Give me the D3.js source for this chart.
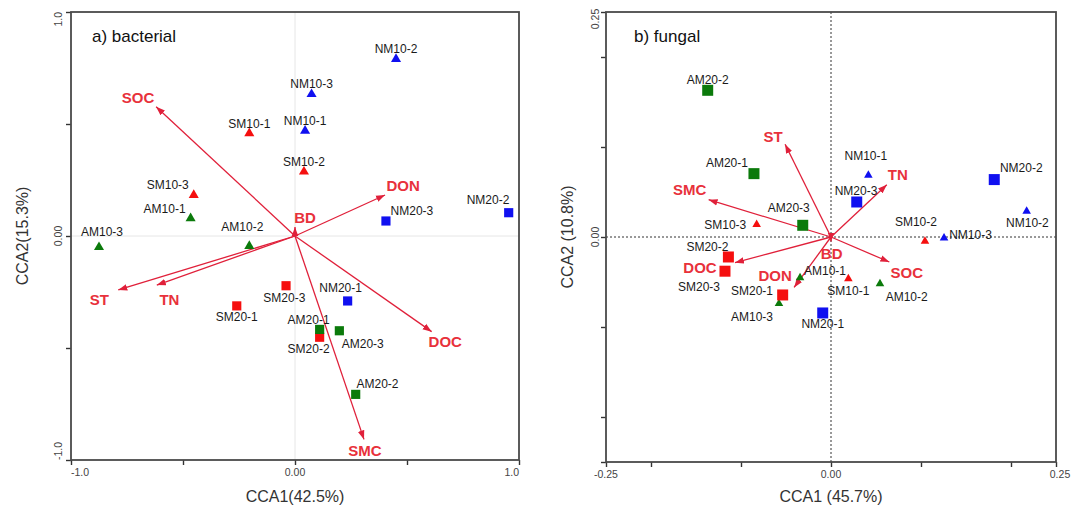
<!DOCTYPE html>
<html>
<head>
<meta charset="utf-8">
<script src="https://cdn.jsdelivr.net/npm/d3@7"></script>
<style>
  body { margin: 0; background: #fff; }
  svg { display: block; }
  text { font-family: Arial, "Liberation Sans", sans-serif; }
</style>
</head>
<body>
<svg id="chart" width="1072" height="509"></svg>
<script>
// ---- Sample order shared by both ordinations ----
const samples = ["NM10-1","NM10-2","NM10-3","SM10-1","SM10-2","SM10-3","AM10-1","AM10-2","AM10-3",
                 "NM20-1","NM20-2","NM20-3","SM20-1","SM20-2","SM20-3","AM20-1","AM20-2","AM20-3"];

// ---- a) bacterial CCA: sample scores ----
const bacCCA1 = [0.045, 0.451, 0.074, -0.204, 0.040, -0.452, -0.466, -0.204, -0.875,
                 0.235, 0.954, 0.406, -0.260, 0.110, -0.040, 0.110, 0.271, 0.198];
const bacCCA2 = [0.470, 0.790, 0.633, 0.458, 0.287, 0.183, 0.079, -0.045, -0.050,
                 -0.290, 0.104, 0.067, -0.312, -0.452, -0.222, -0.417, -0.707, -0.423];
// environmental biplot vectors
const bacEnv  = ["SOC", "DON", "BD", "ST", "TN", "DOC", "SMC"];
const bacEnvX = [-0.620, 0.402, 0.000, -0.789, -0.617, 0.610, 0.308];
const bacEnvY = [0.577, 0.183, 0.040, -0.241, -0.219, -0.427, -0.908];

// ---- b) fungal CCA: sample scores ----
const funCCA1 = [0.0415, 0.2174, 0.1256, 0.0193, 0.1044, -0.0826, -0.0344, 0.0544, -0.0578,
                 -0.0092, 0.1814, 0.0286, -0.0537, -0.1140, -0.1178, -0.0856, -0.1370, -0.0314];
const funCCA2 = [0.0686, 0.0286, -0.0010, -0.0463, -0.0048, 0.0138, -0.0452, -0.0520, -0.0740,
                 -0.0844, 0.0638, 0.0389, -0.0644, -0.0222, -0.0380, 0.0704, 0.1630, 0.0130];
const funEnv  = ["ST", "SMC", "TN", "DOC", "DON", "SOC", "BD"];
const funEnvX = [-0.051, -0.136, 0.062, -0.1067, -0.041, 0.0648, 0.000];
const funEnvY = [0.103, 0.0415, 0.058, -0.0285, -0.056, -0.0278, -0.005];

// ---- axis ticks ----
const bacTicks = [-1, -0.5, 0, 0.5, 1];
const bacTickLabels = ["-1.0", "", "0.00", "", "1.0"];
const funTicks = [-0.25, -0.2, -0.1, 0, 0.1, 0.2, 0.25];
const funXTickLabels = ["-0.25", "", "", "0.00", "", "", "0.25"];
const funYTickLabels = ["", "", "", "0.00", "", "", "0.25"];

// ---- label placement (pixel nudges from each mark) ----
const bacLabelNudge = [[0,-10],[0,-10.5],[0,-10.3],[0,-10],[0,-9.5],[-26,-10.7],[-26,-10],[-7,-19],[3,-15.6],
                       [-7,-13],[-20.7,-13.4],[26,-10],[0,11.3],[-11,12],[-1.7,12],[-11,-10],[21.8,-11],[23.4,13.3]];
const bacEnvNudge = [[-18,-9.5],[18,-9],[10,-9],[-19,10],[12.6,15],[13.6,10.6],[1,11]];
const funLabelNudge = [[-2.5,-19.7],[0.8,11.3],[26.5,-3.4],[0,11.7],[-9,-20],[-31.4,0],[25,-6.6],[26.7,12.7],[-27,13.4],
                       [0,11.3],[27,-11.6],[-0.7,-10.7],[-30.7,-4],[-21,-10],[-26,16],[-27,-10.6],[0,-11],[-14,-18]];
const funEnvNudge = [[-12,-8],[-19,-10],[11,-10],[-35,5],[-19,-12],[17.4,11],[0.7,12]];

const siteColor = { NM: "#1010f0", SM: "#f50f0f", AM: "#0b7a0b" };
const arrowColor = "#e0203a";
const envLabelColor = "#e8313b";

const svg = d3.select("#chart");

svg.append("defs").append("marker")
  .attr("id", "head")
  .attr("viewBox", "-9 -4 9 8")
  .attr("refX", 0).attr("refY", 0)
  .attr("markerWidth", 9).attr("markerHeight", 8)
  .attr("markerUnits", "userSpaceOnUse")
  .attr("orient", "auto")
  .append("path")
  .attr("d", "M0,0L-9,-3.3L-9,3.3Z")
  .attr("fill", arrowColor);

function drawPanel(cfg) {
  const x = d3.scaleLinear().domain(cfg.domain).range([cfg.left, cfg.left + cfg.size]);
  const y = d3.scaleLinear().domain(cfg.domain).range([cfg.top + cfg.size, cfg.top]);
  const g = svg.append("g");

  // zero reference lines
  const zl = g.append("g")
    .attr("stroke", cfg.zeroColor)
    .attr("stroke-width", cfg.zeroWidth)
    .attr("stroke-dasharray", cfg.zeroDash);
  zl.append("line").attr("x1", x(0)).attr("x2", x(0)).attr("y1", y(cfg.domain[0])).attr("y2", y(cfg.domain[1]));
  zl.append("line").attr("y1", y(0)).attr("y2", y(0)).attr("x1", x(cfg.domain[0])).attr("x2", x(cfg.domain[1]));

  // axes
  const xAxis = d3.axisBottom(x).tickValues(cfg.ticks).tickSize(5).tickFormat("");
  const yAxis = d3.axisLeft(y).tickValues(cfg.ticks).tickSize(5).tickFormat("");
  const gx = g.append("g").attr("transform", `translate(0,${cfg.top + cfg.size})`).call(xAxis);
  const gy = g.append("g").attr("transform", `translate(${cfg.left},0)`).call(yAxis);
  [gx, gy].forEach(a => {
    a.select(".domain").remove();
    a.selectAll(".tick line").attr("stroke", "#333").attr("stroke-width", 1.4);
  });

  // frame
  g.append("rect")
    .attr("x", cfg.left).attr("y", cfg.top)
    .attr("width", cfg.size).attr("height", cfg.size)
    .attr("fill", "none").attr("stroke", "#4a4a4a").attr("stroke-width", 1.8);

  // tick labels
  cfg.ticks.forEach((t, i) => {
    const lx = cfg.xTickLabels[i];
    if (lx) {
      const anchor = cfg.edgeAnchor ? (i === 0 ? "start" : i === cfg.ticks.length - 1 ? "end" : "middle") : "middle";
      g.append("text")
        .attr("x", x(t) + (cfg.edgeAnchor ? 0 : (i === cfg.ticks.length - 1 ? 4 : 0)))
        .attr("y", cfg.top + cfg.size + 12).attr("dy", "0.35em")
        .attr("text-anchor", anchor)
        .attr("font-size", 10.5).attr("fill", "#444").text(lx);
    }
    const ly = cfg.yTickLabels[i];
    if (ly) {
      let anchor = "middle", py = y(t);
      if (cfg.edgeAnchor) {
        anchor = i === 0 ? "start" : i === cfg.ticks.length - 1 ? "end" : "middle";
      } else if (i === cfg.ticks.length - 1) {
        py = y(t) + 7;
      }
      g.append("text")
        .attr("transform", `translate(${cfg.left - cfg.yTickGap},${py}) rotate(-90)`)
        .attr("dy", "0.35em")
        .attr("text-anchor", anchor)
        .attr("font-size", 10.5).attr("fill", "#444").text(ly);
    }
  });

  // axis titles
  g.append("text")
    .attr("x", cfg.left + cfg.size / 2).attr("y", 496).attr("dy", "0.35em")
    .attr("text-anchor", "middle").attr("font-size", 16).attr("fill", "#333")
    .text(cfg.xTitle);
  g.append("text")
    .attr("transform", `translate(${cfg.yTitleX},${cfg.top + cfg.size / 2}) rotate(-90)`)
    .attr("dy", "0.35em").attr("text-anchor", "middle")
    .attr("font-size", 16).attr("fill", "#333")
    .text(cfg.yTitle);

  // panel title
  g.append("text")
    .attr("x", cfg.left + cfg.titleDx).attr("y", 36.5).attr("dy", "0.35em")
    .attr("font-size", 17).attr("fill", "#111").text(cfg.title);

  // environmental vectors
  const env = cfg.env.map((name, i) => ({ name, x: cfg.envX[i], y: cfg.envY[i], n: cfg.envNudge[i] }));
  g.append("g").selectAll("line").data(env).join("line")
    .attr("x1", x(0)).attr("y1", y(0))
    .attr("x2", d => x(d.x)).attr("y2", d => y(d.y))
    .attr("stroke", arrowColor).attr("stroke-width", 1.3)
    .attr("marker-end", "url(#head)");

  // sample points
  const pts = samples.map((name, i) => ({
    name, x: cfg.cca1[i], y: cfg.cca2[i], n: cfg.labelNudge[i],
    site: name.slice(0, 2), depth: name.slice(2, 4)
  }));
  g.append("g").selectAll("path").data(pts).join("path")
    .attr("transform", d => `translate(${x(d.x)},${y(d.y)})`)
    .attr("d", d => d3.symbol()
      .type(d.depth === "10" ? d3.symbolTriangle : d3.symbolSquare)
      .size(d.depth === "10" ? cfg.triSize : cfg.sqSize)())
    .attr("fill", d => siteColor[d.site]);

  // sample labels
  g.append("g").selectAll("text").data(pts).join("text")
    .attr("x", d => x(d.x) + d.n[0]).attr("y", d => y(d.y) + d.n[1])
    .attr("dy", "0.35em").attr("text-anchor", "middle")
    .attr("font-size", 12).attr("fill", "#1a1a1a")
    .text(d => d.name);

  // vector labels
  g.append("g").selectAll("text").data(env).join("text")
    .attr("x", d => x(d.x) + d.n[0]).attr("y", d => y(d.y) + d.n[1])
    .attr("dy", "0.35em").attr("text-anchor", "middle")
    .attr("font-size", 15).attr("font-weight", "bold").attr("fill", envLabelColor)
    .text(d => d.name);
}

drawPanel({
  left: 71, top: 12, size: 448, domain: [-1, 1],
  ticks: bacTicks, xTickLabels: bacTickLabels, yTickLabels: bacTickLabels,
  edgeAnchor: true, yTickGap: 13,
  zeroColor: "#e6e6e6", zeroWidth: 1, zeroDash: null,
  xTitle: "CCA1(42.5%)", yTitle: "CCA2(15.3%)", yTitleX: 22,
  title: "a) bacterial", titleDx: 21,
  cca1: bacCCA1, cca2: bacCCA2, labelNudge: bacLabelNudge,
  env: bacEnv, envX: bacEnvX, envY: bacEnvY, envNudge: bacEnvNudge,
  triSize: 44, sqSize: 84
});

drawPanel({
  left: 606, top: 12, size: 450, domain: [-0.25, 0.25],
  ticks: funTicks, xTickLabels: funXTickLabels, yTickLabels: funYTickLabels,
  edgeAnchor: false, yTickGap: 11,
  zeroColor: "#333", zeroWidth: 1, zeroDash: "2,2",
  xTitle: "CCA1 (45.7%)", yTitle: "CCA2 (10.8%)", yTitleX: 567,
  title: "b) fungal", titleDx: 28,
  cca1: funCCA1, cca2: funCCA2, labelNudge: funLabelNudge,
  env: funEnv, envX: funEnvX, envY: funEnvY, envNudge: funEnvNudge,
  triSize: 32, sqSize: 121
});
</script>
</body>
</html>
